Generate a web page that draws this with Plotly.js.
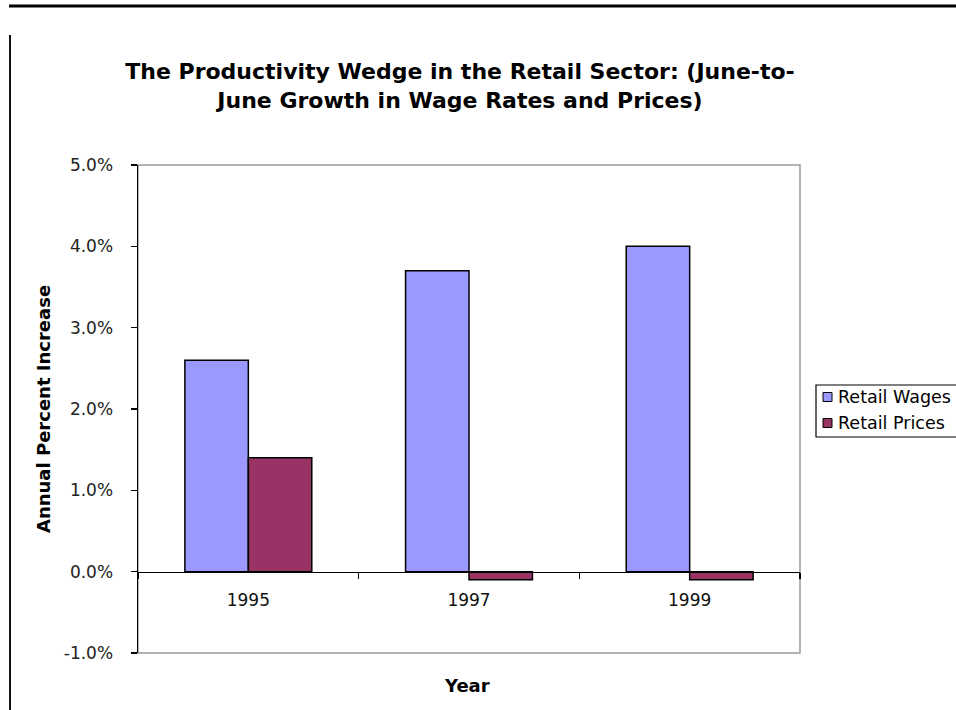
<!DOCTYPE html>
<html><head><meta charset="utf-8">
<script src="https://cdn.plot.ly/plotly-3.0.1.min.js"></script>
<style>html,body{margin:0;padding:0;background:#fff;overflow:hidden}#chart{width:956px;height:710px}</style>
</head><body><div id="chart"></div>
<script>
// ---- data ----
const years = ['1995', '1997', '1999'];
const seriesNames = ['Retail Wages', 'Retail Prices'];
const retailWages = [2.6, 3.7, 4.0];
const retailPrices = [1.4, -0.1, -0.1];
const yTickVals = [-1, 0, 1, 2, 3, 4, 5];
const yTickText = ['-1.0%', '0.0%', '1.0%', '2.0%', '3.0%', '4.0%', '5.0%'];
const seriesColors = ['#9999FF', '#993366'];

// ---- layout geometry ----
const W = 956, H = 710, L = 138, R = 800, T = 165, B = 653;
const yMin = -1, yMax = 5;
const px2x = p => (p - L) / (R - L);
const py2y = p => (B - p) / (B - T);
const FONT = 'DejaVu Sans, Verdana, sans-serif';

const traces = [
  {type: 'bar', x: years, y: retailWages, name: seriesNames[0],
   marker: {color: seriesColors[0], line: {color: '#000', width: 1.5}}, showlegend: false},
  {type: 'bar', x: years, y: retailPrices, name: seriesNames[1],
   marker: {color: seriesColors[1], line: {color: '#000', width: 1.5}}, showlegend: false}
];

const legTop = 385, legBot = 437, rowY = [397, 423];
const shapes = [
  // plot frame
  {type: 'rect', xref: 'paper', yref: 'paper', x0: 0, x1: 1, y0: 0, y1: 1,
   line: {color: '#9a9a9a', width: 1.5}, layer: 'below'},
  // page rules
  {type: 'line', xref: 'paper', yref: 'paper', x0: px2x(9), x1: px2x(960), y0: py2y(6), y1: py2y(6),
   line: {color: '#000', width: 3}},
  {type: 'line', xref: 'paper', yref: 'paper', x0: px2x(10), x1: px2x(10), y0: py2y(35), y1: py2y(712),
   line: {color: '#111', width: 2}},
  // legend box
  {type: 'rect', xref: 'paper', yref: 'paper', x0: px2x(816), x1: px2x(975), y0: py2y(legBot), y1: py2y(legTop),
   line: {color: '#000', width: 1.2}, fillcolor: '#fff'}
];
seriesNames.forEach((n, i) => {
  shapes.push({type: 'rect', xref: 'paper', yref: 'paper',
    x0: px2x(823), x1: px2x(832), y0: py2y(rowY[i] + 4.5), y1: py2y(rowY[i] - 4.5),
    line: {color: '#000', width: 1}, fillcolor: seriesColors[i]});
});

const annotations = [
  {text: 'Annual Percent Increase', xref: 'paper', yref: 'paper', x: px2x(43), y: py2y(409),
   textangle: -90, showarrow: false, xanchor: 'center', yanchor: 'middle',
   font: {family: FONT, size: 18, weight: 'bold', color: '#000'}},
  {text: 'Year', xref: 'paper', yref: 'paper', x: px2x(467), y: py2y(685),
   showarrow: false, xanchor: 'center', yanchor: 'middle',
   font: {family: FONT, size: 18, weight: 'bold', color: '#000'}}
];
seriesNames.forEach((n, i) => {
  annotations.push({text: n, xref: 'paper', yref: 'paper', x: px2x(836), y: py2y(rowY[i]),
    showarrow: false, xanchor: 'left', yanchor: 'middle',
    font: {family: FONT, size: 17.5, color: '#000'}});
});

const layout = {
  width: W, height: H,
  margin: {l: L, r: W - R, t: T, b: H - B, pad: 0},
  paper_bgcolor: '#fff', plot_bgcolor: '#fff',
  barmode: 'group', bargap: 0.425, bargroupgap: 0,
  showlegend: false,
  title: {text: 'The Productivity Wedge in the Retail Sector: (June-to-<br>June Growth in Wage Rates and Prices)',
    xref: 'container', yref: 'container', x: 460 / W, y: 1 - 79 / H, xanchor: 'center', yanchor: 'middle',
    font: {family: FONT, size: 22, weight: 'bold', color: '#000'}},
  xaxis: {type: 'category', anchor: 'free', position: (0 - yMin) / (yMax - yMin),
    showline: true, linecolor: '#000', linewidth: 1.5,
    ticks: 'outside', tickson: 'boundaries', ticklen: 6, tickwidth: 1.5, tickcolor: '#000',
    ticklabelstandoff: 12,
    tickfont: {family: FONT, size: 17, color: '#111'}, showgrid: false, zeroline: false, fixedrange: true},
  yaxis: {range: [yMin, yMax], tickvals: yTickVals, ticktext: yTickText,
    showline: true, linecolor: '#000', linewidth: 1.5,
    ticks: 'outside', ticklen: 6, tickwidth: 1.5, tickcolor: '#000',
    ticklabelstandoff: 14,
    tickfont: {family: FONT, size: 17, color: '#222'}, showgrid: false, zeroline: false, fixedrange: true},
  shapes: shapes,
  annotations: annotations
};

Plotly.newPlot('chart', traces, layout, {displayModeBar: false, staticPlot: true});
</script>
</body></html>
